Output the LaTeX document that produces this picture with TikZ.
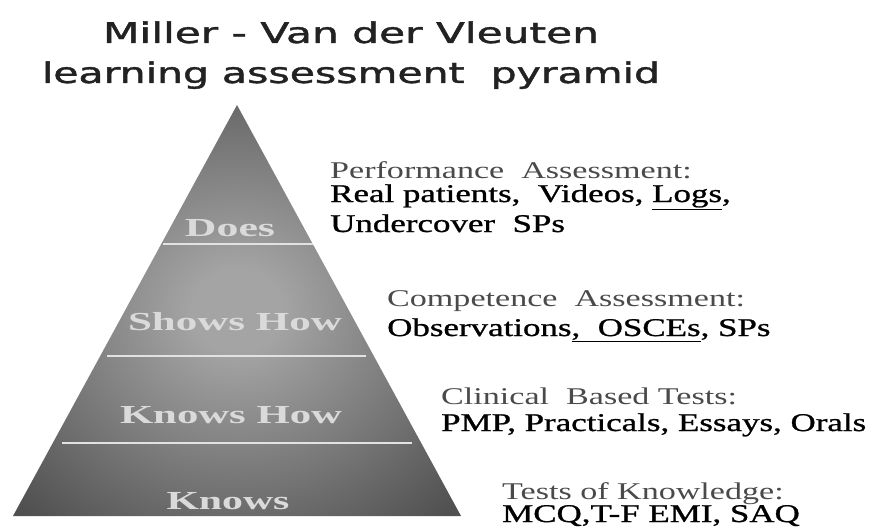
\documentclass[tikz,border=0pt]{standalone}
\usepackage{fontspec}
\usepackage{graphicx}
\setmainfont{Liberation Serif}
\newfontfamily\titlefont[FakeBold=1.2]{DejaVu Sans}
\newfontfamily\darkserif[FakeBold=0.8]{Liberation Serif}
\definecolor{titlecol}{HTML}{222222}
\definecolor{headcol}{HTML}{4A4A4A}
\definecolor{labelcol}{HTML}{DADADA}
\definecolor{sepcol}{HTML}{E2E2E2}
\definecolor{pyrlight}{HTML}{A4A4A4}
\definecolor{pyrdark}{HTML}{505050}
\pgfdeclareradialshading{pyrshade}{\pgfpoint{0bp}{0bp}}{color(0bp)=(pyrlight); color(5bp)=(pyrlight); color(34bp)=(pyrdark); color(50bp)=(pyrdark)}
\begin{document}
\begin{tikzpicture}[x=1pt,y=-1pt,
  title/.style={inner sep=0pt, anchor=base, text=titlecol, font=\titlefont\fontsize{28.5}{30}\selectfont},
  head/.style={inner sep=0pt, anchor=base west, text=headcol, font=\fontsize{24}{26}\selectfont},
  item/.style={inner sep=0pt, anchor=base west, text=black, font=\darkserif\fontsize{25.5}{27}\selectfont},
  level/.style={inner sep=0pt, anchor=base, text=labelcol, font=\bfseries\fontsize{26}{28}\selectfont},
  sep/.style={draw=sepcol, line width=1.6pt}]
\useasboundingbox (0,0) rectangle (886,527);
\fill[white] (0,0) rectangle (886,527);
% pyramid
\shade[shading=pyrshade] (237,105) -- (461,516) -- (13,516) -- cycle;
\draw[sep] (163,244) -- (313,244);
\draw[sep] (107,356) -- (366,356);
\draw[sep] (62,443) -- (412,443);
% title
\node[title] (t1) at (351,43) {\resizebox{496pt}{\height}{Miller - Van der Vleuten}};
\node[title] (t2) at (351,83) {\resizebox{618pt}{\height}{learning assessment\ \ pyramid}};
% levels
\node[level] (does) at (230,236) {\resizebox{90pt}{\height}{Does}};
\node[level] (shows) at (235,330) {\resizebox{214pt}{\height}{Shows How}};
\node[level] (knowshow) at (231,423) {\resizebox{222pt}{\height}{Knows How}};
\node[level] (knows) at (228,509) {\resizebox{123pt}{\height}{Knows}};
% right texts
\node[head] (perfh) at (330,178) {\scalebox{1.42}[1]{Performance\ \ Assessment:}};
\node[item] (perf1) at (330,202) {\scalebox{1.37}[1]{Real patients,\ \ Videos, \underline{Logs},}};
\node[item] (perf2) at (330,232) {\scalebox{1.37}[1]{Undercover\ \ SPs}};
\node[head] (comph) at (387,306) {\scalebox{1.42}[1]{Competence\ \ Assessment:}};
\node[item] (comp1) at (387,336) {\scalebox{1.37}[1]{Observations\underline{,\ \ OSCEs}, SPs}};
\node[head] (clinh) at (441,404) {\scalebox{1.42}[1]{Clinical\ \ Based Tests:}};
\node[item] (clin1) at (441,431) {\scalebox{1.37}[1]{PMP, Practicals, Essays, Orals}};
\node[head] (testh) at (502,499) {\scalebox{1.42}[1]{Tests\ of Knowledge:}};
\node[item] (test1) at (502,522) {\scalebox{1.37}[1]{MCQ,T-F EMI, SAQ}};
\end{tikzpicture}
\end{document}
